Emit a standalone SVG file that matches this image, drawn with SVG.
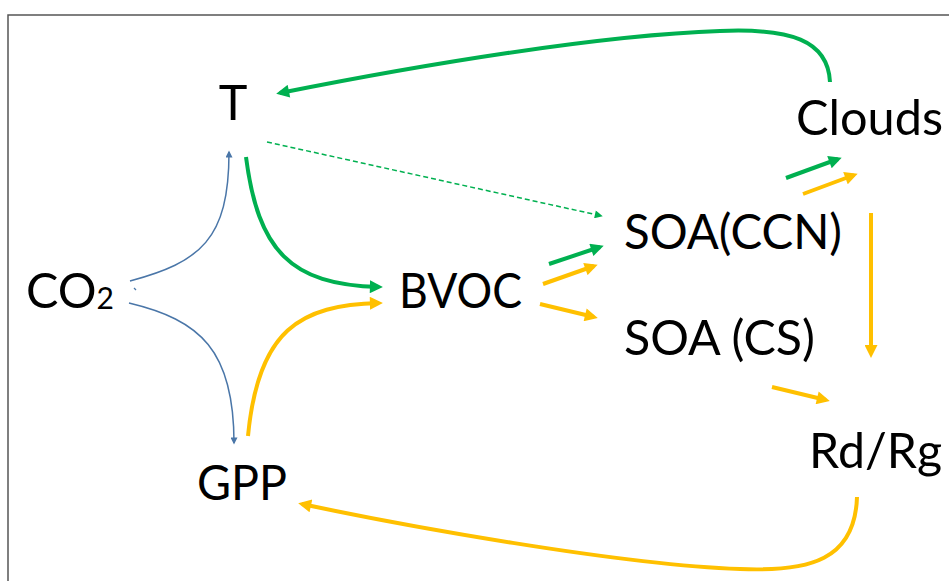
<svg xmlns="http://www.w3.org/2000/svg" width="949" height="581" viewBox="0 0 949 581">
<style>
.lbl{font-family:Lato,"Open Sans","Liberation Sans",sans-serif;font-size:48.5px;fill:#000}
.g{stroke:#00B050;stroke-width:4;fill:none}
.y{stroke:#FFC000;stroke-width:4;fill:none}
.b{stroke:#4A76A8;stroke-width:1.5;fill:none}
.gd{stroke:#00B050;stroke-width:1.5;fill:none;stroke-dasharray:5 3}
</style>
<defs>
<marker id="ag" viewBox="0 0 10 10" refX="7" refY="5" markerWidth="14" markerHeight="13" markerUnits="userSpaceOnUse" orient="auto"><path d="M0,0 L10,5 L0,10 z" fill="#00B050"/></marker>
<marker id="ay" viewBox="0 0 10 10" refX="7" refY="5" markerWidth="14" markerHeight="13" markerUnits="userSpaceOnUse" orient="auto"><path d="M0,0 L10,5 L0,10 z" fill="#FFC000"/></marker>
<marker id="ab" viewBox="0 0 10 10" refX="8" refY="5" markerWidth="8" markerHeight="7" markerUnits="userSpaceOnUse" orient="auto"><path d="M0,0 L10,5 L0,10 z" fill="#4A76A8"/></marker>
<marker id="agd" viewBox="0 0 10 10" refX="9" refY="5" markerWidth="10" markerHeight="8" markerUnits="userSpaceOnUse" orient="auto"><path d="M0,0 L10,5 L0,10 z" fill="#00B050"/></marker>
</defs>
<rect width="949" height="581" fill="#fff"/>
<path d="M8,581 L8,15 L949,15" fill="none" stroke="#555" stroke-width="1.5"/>
<g id="connectors">
<path class="g" d="M830,82 C828,40 790,28 720,31 C600,35 420,65 280,93" marker-end="url(#ag)"/>
<path class="gd" d="M267,142 L602,216" marker-end="url(#agd)"/>
<path class="b" d="M130,281 C200,262 229,240 229,152" marker-end="url(#ab)"/>
<path class="b" d="M129,303 C200,320 234,350 234,443" marker-end="url(#ab)"/>
<path d="M134,288 L136,290" stroke="#4A76A8" stroke-width="1.2"/>
<path class="g" d="M246,157 C258,250 290,285 379,287" marker-end="url(#ag)"/>
<path class="y" d="M248,436 C258,330 300,305 379,303" marker-end="url(#ay)"/>
<path class="g" d="M549,264 L600,247" marker-end="url(#ag)"/>
<path class="y" d="M543,284 L594,266" marker-end="url(#ay)"/>
<path class="y" d="M540,304 L594,317" marker-end="url(#ay)"/>
<path class="g" d="M786,178 L838,159" marker-end="url(#ag)"/>
<path class="y" d="M803,194 L854,175" marker-end="url(#ay)"/>
<path class="y" d="M871,213 L871,354" marker-end="url(#ay)"/>
<path class="y" d="M772,387 L826,400" marker-end="url(#ay)"/>
<path class="y" d="M857,497 C855,560 810,572 740,569 C620,565 400,525 302,504" marker-end="url(#ay)"/>
</g>
<g id="T"><text class="lbl" x="233" y="120" text-anchor="middle">T</text></g>
<g id="Clouds"><text class="lbl" x="796" y="135" textLength="147" lengthAdjust="spacingAndGlyphs">Clouds</text></g>
<g id="SOA_CCN"><text class="lbl" x="624" y="249" textLength="218" lengthAdjust="spacingAndGlyphs">SOA(CCN)</text></g>
<g id="SOA_CS"><text class="lbl" x="624" y="355" textLength="191" lengthAdjust="spacingAndGlyphs">SOA (CS)</text></g>
<g id="BVOC"><text class="lbl" x="399" y="308" textLength="123" lengthAdjust="spacingAndGlyphs">BVOC</text></g>
<g id="CO2"><text class="lbl" x="26" y="308">CO<tspan font-size="30" dy="1">2</tspan></text></g>
<g id="GPP"><text class="lbl" x="197" y="500" textLength="90" lengthAdjust="spacingAndGlyphs">GPP</text></g>
<g id="RdRg"><text class="lbl" x="809" y="468" textLength="133" lengthAdjust="spacingAndGlyphs">Rd/Rg</text></g>
</svg>
